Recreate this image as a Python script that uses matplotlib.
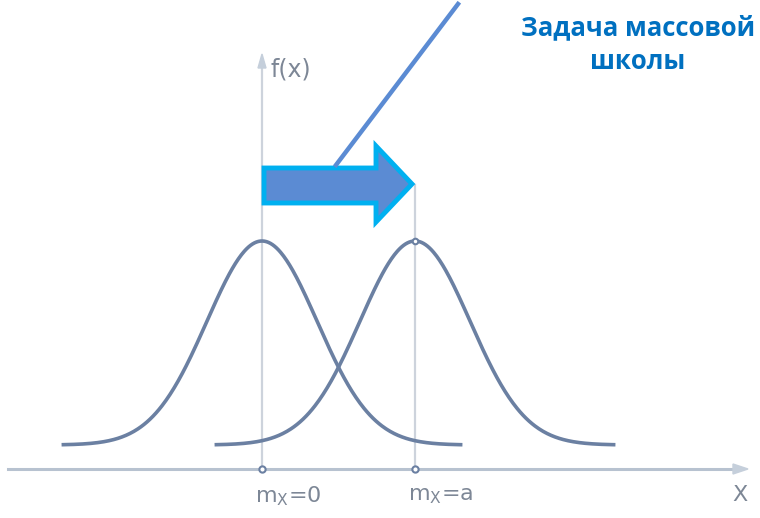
import numpy as np
import matplotlib
matplotlib.use("Agg")
import matplotlib.pyplot as plt
from matplotlib.patches import Polygon

# --- data ---
means = [0.0, 1.0]            # m_X = 0 and m_X = a
mean_labels = ["m$_\\mathregular{X}$=0", "m$_\\mathregular{X}$=a"]
sigma = 0.36
half_span = 1.31              # curves drawn to about +-3.6 sigma
title_text = "Задача массовой\nшколы"

W, H = 760, 518
fig = plt.figure(figsize=(W / 100, H / 100), dpi=100)
ax = fig.add_axes([0, 0, 1, 1])
ax.set_axis_off()

# pixel -> data mapping: x 0 at px 262, 1 unit = 153 px ; y 0 at px 445, 1 unit = 185 px
px_x0, ux = 262, 153
px_y0, uy = 445, 185
ax.set_xlim(-px_x0 / ux, (W - px_x0) / ux)
ax.set_ylim(-(H - px_y0) / uy, px_y0 / uy)

axis_y = -24 / uy
axis_col = "#b7c2d0"
curve_col = "#6b80a2"
vline_col = "#cdd3dc"
label_col = "#7d8796"

# x axis with arrow
ax.plot([(8 - px_x0) / ux, (738 - px_x0) / ux], [axis_y, axis_y], color=axis_col, lw=2.2, zorder=1)
ax.add_patch(Polygon([[(733 - px_x0) / ux, axis_y + 5 / uy], [(748 - px_x0) / ux, axis_y],
                      [(733 - px_x0) / ux, axis_y - 5 / uy]], closed=True, color="#c5cfdb", zorder=1))
ax.text((740 - px_x0) / ux, axis_y - 26 / uy, "X", ha="center", va="center", fontsize=16,
        color=label_col, family="DejaVu Sans")

# y axis (f(x)) vertical line with arrow
ax.plot([0, 0], [axis_y, (px_y0 - 60) / uy], color=vline_col, lw=1.6, zorder=1)
ax.add_patch(Polygon([[-4 / ux, (px_y0 - 68) / uy], [0, (px_y0 - 54) / uy], [4 / ux, (px_y0 - 68) / uy]],
                     closed=True, color="#c5cfdb", zorder=1))
ax.text(9 / ux, (px_y0 - 70) / uy, "f(x)", ha="left", va="center", fontsize=17,
        color=label_col, family="DejaVu Sans Condensed" if False else "DejaVu Sans")

# second vertical line at m_X = a
ax.plot([means[1], means[1]], [axis_y, (px_y0 - 185) / uy], color=vline_col, lw=1.6, zorder=1)

peak = 1.0 / (sigma * np.sqrt(2 * np.pi))
scale = (445 - 241) / uy / peak
for m, lab in zip(means, mean_labels):
    xs = np.linspace(m - half_span, m + half_span, 400)
    ys = scale * np.exp(-0.5 * ((xs - m) / sigma) ** 2) / (sigma * np.sqrt(2 * np.pi))
    ax.plot(xs, ys, color=curve_col, lw=2.6, solid_capstyle="butt", zorder=3)
    ax.plot([m], [axis_y], marker="o", ms=4.5, mfc="white", mec=curve_col, mew=1.5, zorder=4)
    ax.text(m + 26 / ux, axis_y - 27 / uy, lab, ha="center", va="center", fontsize=16,
            color=label_col, family="DejaVu Sans")
ax.plot([means[1]], [scale * peak], marker="o", ms=4, mfc="white", mec=curve_col, mew=1.5, zorder=4)

# block arrow (from m=0 to m=a)
def P(px, py):
    return [(px - px_x0) / ux, (px_y0 - py) / uy]

arrow_pts = [P(264, 168), P(376, 168), P(376, 146), P(412, 184), P(376, 222), P(376, 203), P(264, 203)]
ax.add_patch(Polygon(arrow_pts, closed=True, facecolor="#5b8bd3", edgecolor="#00b0f0", lw=3.5,
                     joinstyle="miter", zorder=5))

# pointer line to the caption
ax.plot([(336 - px_x0) / ux, (458 - px_x0) / ux], [(px_y0 - 165) / uy, (px_y0 - 4) / uy],
        color="#5b8bd3", lw=3.2, zorder=6)

# caption
ax.text((638 - px_x0) / ux, (px_y0 - 45) / uy, title_text, ha="center", va="center",
        fontsize=18.5, fontweight="bold", color="#0070c0", family="Open Sans", linespacing=1.32)

fig.savefig("out.png", dpi=100)
